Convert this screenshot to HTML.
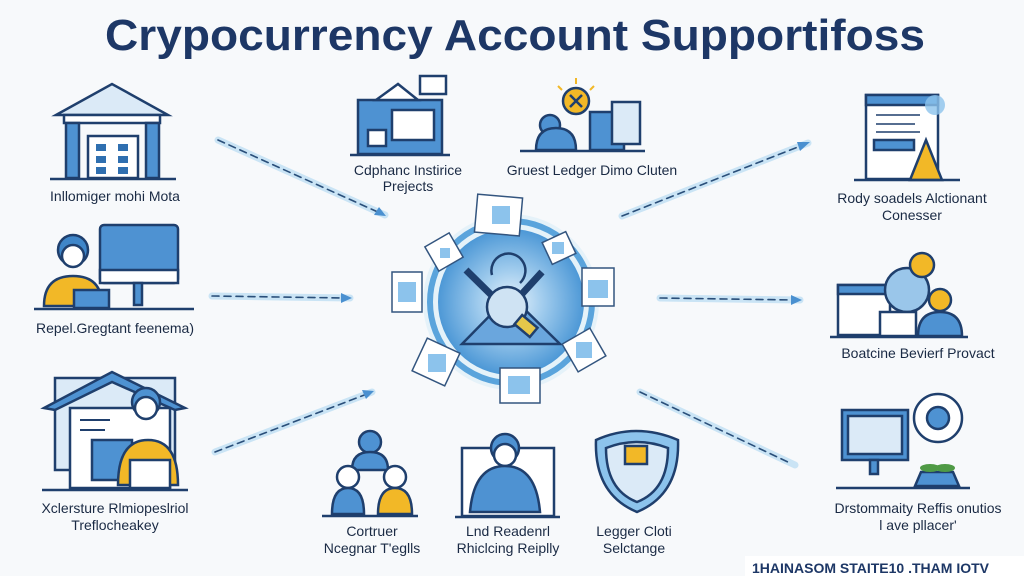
<!DOCTYPE html>
<html><head><meta charset="utf-8"><style>
html,body{margin:0;padding:0;background:#f7f9fb;}
svg{display:block;}
text{font-family:"Liberation Sans",sans-serif;}
</style></head><body>
<svg width="1024" height="576" viewBox="0 0 1024 576" xmlns="http://www.w3.org/2000/svg">
<defs>
<radialGradient id="cg" cx="50%" cy="50%" r="50%">
<stop offset="0" stop-color="#e8f3fc"/><stop offset="0.45" stop-color="#9fcbed"/><stop offset="1" stop-color="#4d98d6"/>
</radialGradient>
</defs>
<rect width="1024" height="576" fill="#f7f9fb"/>
<text x="105" y="50" textLength="820" lengthAdjust="spacingAndGlyphs" font-size="44" font-weight="bold" fill="#1d3766">Crypocurrency Account Supportifoss</text>

<!-- connectors -->
<g stroke-linecap="round">
<g stroke="#bfe0f4" stroke-width="7" opacity="0.8">
<line x1="218" y1="140" x2="385" y2="215"/><line x1="212" y1="296" x2="350" y2="298"/><line x1="215" y1="452" x2="372" y2="392"/>
<line x1="622" y1="216" x2="808" y2="143"/><line x1="660" y1="298" x2="800" y2="300"/><line x1="640" y1="392" x2="795" y2="465"/>
</g>
<g stroke="#2a4f7a" stroke-width="1.6" stroke-dasharray="7,5">
<line x1="218" y1="140" x2="380" y2="213"/><line x1="212" y1="296" x2="345" y2="298"/><line x1="215" y1="452" x2="367" y2="394"/>
<line x1="622" y1="216" x2="803" y2="145"/><line x1="660" y1="298" x2="795" y2="300"/><line x1="640" y1="392" x2="790" y2="463"/>
</g>
<g fill="#4a90d0">
<polygon points="386,216 374,215 379,207"/><polygon points="352,298 341,293 341,303"/><polygon points="374,391 366,399 362,390"/>
<polygon points="810,142 800,151 797,142"/><polygon points="802,300 791,295 791,305"/>
</g>
</g>

<!-- center -->
<circle cx="511" cy="302" r="88" fill="#d9ecf9" opacity="0.6"/>
<circle cx="511" cy="302" r="81" fill="none" stroke="#5aa4dc" stroke-width="6"/>
<circle cx="511" cy="302" r="73" fill="url(#cg)"/>
<g stroke="#1f3f6d" stroke-width="2.5" fill="#6aa6dd">
<polygon points="462,344 510,295 560,344"/>
<line x1="466" y1="270" x2="530" y2="333" stroke-width="7"/>
<line x1="542" y1="272" x2="500" y2="318" stroke-width="7"/>
<path d="M492,275 a17,17 0 1 1 28,8" fill="none"/>
<circle cx="507" cy="307" r="20" fill="#cfe3f3"/>
<rect x="516" y="320" width="20" height="12" fill="#e5c74a" transform="rotate(40 526 326)"/>
</g>
<!-- cards -->
<g fill="#fff" stroke="#33557f" stroke-width="1.5">
<rect x="476" y="196" width="45" height="38" transform="rotate(5 498 215)"/>
<rect x="430" y="238" width="28" height="28" transform="rotate(-30 444 252)"/>
<rect x="392" y="272" width="30" height="40"/>
<rect x="418" y="344" width="36" height="36" transform="rotate(25 436 362)"/>
<rect x="500" y="368" width="40" height="35"/>
<rect x="568" y="334" width="32" height="32" transform="rotate(-30 584 350)"/>
<rect x="582" y="268" width="32" height="38"/>
<rect x="546" y="236" width="26" height="24" transform="rotate(-25 559 248)"/>
</g>
<g fill="#8cc3ec">
<rect x="492" y="206" width="18" height="18"/><rect x="440" y="248" width="10" height="10"/><rect x="398" y="282" width="18" height="20"/>
<rect x="428" y="354" width="18" height="18"/><rect x="508" y="376" width="22" height="18"/><rect x="576" y="342" width="16" height="16"/>
<rect x="588" y="280" width="20" height="18"/><rect x="552" y="242" width="12" height="12"/>
</g>

<!-- left icons -->
<g stroke="#1f3f6d" stroke-width="2.5" fill="#fff">
<polygon points="56,115 112,84 168,115" fill="#dbeaf7"/>
<rect x="64" y="115" width="96" height="8" fill="#fff"/>
<rect x="66" y="123" width="13" height="55" fill="#4e92d2"/><rect x="146" y="123" width="13" height="55" fill="#4e92d2"/>
<rect x="88" y="136" width="50" height="42"/>
<line x1="50" y1="179" x2="176" y2="179"/>
</g>
<g fill="#2f6fb0"><rect x="96" y="144" width="10" height="7"/><rect x="118" y="144" width="10" height="7"/><rect x="96" y="156" width="10" height="7"/><rect x="118" y="156" width="10" height="7"/><rect x="96" y="167" width="10" height="7"/><rect x="118" y="167" width="10" height="7"/></g>

<g stroke="#1f3f6d" stroke-width="2.5">
<rect x="100" y="225" width="78" height="58" rx="4" fill="#4e92d2"/>
<rect x="100" y="270" width="78" height="13" fill="#fff"/>
<rect x="134" y="283" width="8" height="22" fill="#4e92d2"/>
<circle cx="73" cy="250" r="15" fill="#3f86c9"/>
<circle cx="73" cy="256" r="11" fill="#fff"/>
<path d="M44,306 q0,-30 29,-30 q29,0 29,30 z" fill="#f2b827"/>
<rect x="74" y="290" width="35" height="18" fill="#4e92d2"/>
<line x1="34" y1="309" x2="194" y2="309"/>
</g>

<g stroke="#1f3f6d" stroke-width="2.5">
<rect x="55" y="378" width="120" height="92" fill="#dbeaf7"/>
<polygon points="44,408 112,372 185,408 175,410 112,382 55,410" fill="#4e92d2"/>
<rect x="70" y="408" width="100" height="80" fill="#fff"/>
<rect x="92" y="440" width="40" height="40" fill="#4e92d2"/>
<path d="M118,485 q0,-45 30,-45 q30,0 30,45 z" fill="#f2b827"/>
<circle cx="146" cy="402" r="14" fill="#4e92d2"/><circle cx="146" cy="408" r="11" fill="#fff"/>
<rect x="130" y="460" width="40" height="28" fill="#fff"/>
<line x1="42" y1="490" x2="188" y2="490"/>
</g>
<g stroke="#1f3f6d" stroke-width="2"><line x1="80" y1="420" x2="110" y2="420"/><line x1="80" y1="430" x2="105" y2="430"/></g>

<!-- top middle icons -->
<g stroke="#1f3f6d" stroke-width="2.5">
<rect x="358" y="100" width="84" height="54" fill="#4e92d2"/>
<rect x="392" y="110" width="42" height="30" fill="#fff"/>
<polygon points="376,100 398,84 418,100" fill="#fff"/>
<rect x="420" y="76" width="26" height="18" fill="#fff"/>
<rect x="368" y="130" width="18" height="16" fill="#fff"/>
<line x1="350" y1="155" x2="450" y2="155"/>
</g>
<g stroke="#1f3f6d" stroke-width="2.5">
<circle cx="576" cy="101" r="13" fill="#f2b827"/>
<path d="M570,95 l12,12 M582,95 l-12,12"/>
<rect x="590" y="112" width="34" height="38" fill="#4e92d2"/>
<rect x="612" y="102" width="28" height="42" fill="#dbeaf7"/>
<circle cx="550" cy="125" r="10" fill="#4e92d2"/>
<path d="M536,150 q0,-22 20,-22 q20,0 20,22 z" fill="#4e92d2"/>
<line x1="520" y1="151" x2="645" y2="151"/>
</g>
<g stroke="#f2b827" stroke-width="2"><line x1="576" y1="78" x2="576" y2="84"/><line x1="558" y1="86" x2="562" y2="90"/><line x1="594" y1="86" x2="590" y2="90"/></g>

<!-- right icons -->
<g stroke="#1f3f6d" stroke-width="2.5">
<rect x="866" y="95" width="72" height="84" fill="#fff"/>
<rect x="866" y="95" width="72" height="10" fill="#4e92d2"/>
<rect x="874" y="140" width="40" height="10" fill="#4e92d2"/>
<polygon points="910,180 926,140 942,180" fill="#f2b827"/>
<line x1="854" y1="180" x2="960" y2="180"/>
</g>
<g stroke="#1f3f6d" stroke-width="1.5"><line x1="876" y1="115" x2="920" y2="115"/><line x1="876" y1="124" x2="915" y2="124"/><line x1="876" y1="132" x2="920" y2="132"/></g>
<circle cx="935" cy="105" r="10" fill="#8cc3ec" opacity="0.8"/>

<g stroke="#1f3f6d" stroke-width="2.5">
<rect x="838" y="285" width="52" height="50" fill="#fff"/>
<rect x="838" y="285" width="52" height="9" fill="#4e92d2"/>
<circle cx="907" cy="290" r="22" fill="#9ac6ea"/>
<circle cx="922" cy="265" r="12" fill="#f2b827"/>
<circle cx="940" cy="300" r="11" fill="#f2b827"/>
<path d="M918,336 q0,-24 22,-24 q22,0 22,24 z" fill="#4e92d2"/>
<rect x="880" y="312" width="36" height="24" fill="#fff"/>
<line x1="830" y1="337" x2="968" y2="337"/>
</g>

<g stroke="#1f3f6d" stroke-width="2.5">
<rect x="842" y="410" width="66" height="50" fill="#4e92d2"/>
<rect x="848" y="416" width="54" height="38" fill="#dbeaf7"/>
<rect x="870" y="460" width="8" height="14" fill="#4e92d2"/>
<circle cx="938" cy="418" r="24" fill="#fff"/>
<circle cx="938" cy="418" r="11" fill="#4e92d2"/>
<path d="M915,486 h44 l-6,-14 h-32 z" fill="#4e92d2"/>
<line x1="836" y1="488" x2="970" y2="488"/>
</g>
<g fill="#4f9a45"><ellipse cx="930" cy="468" rx="10" ry="4"/><ellipse cx="945" cy="468" rx="10" ry="4"/></g>

<!-- bottom middle icons -->
<g stroke="#1f3f6d" stroke-width="2.5">
<circle cx="370" cy="442" r="11" fill="#4e92d2"/>
<path d="M352,470 q0,-18 18,-18 q18,0 18,18 z" fill="#4e92d2"/>
<circle cx="348" cy="477" r="11" fill="#fff"/>
<path d="M332,514 q0,-26 16,-26 q16,0 16,26 z" fill="#4e92d2"/>
<circle cx="395" cy="477" r="11" fill="#fff"/>
<path d="M378,514 q0,-26 17,-26 q17,0 17,26 z" fill="#f2b827"/>
<line x1="322" y1="516" x2="418" y2="516"/>
</g>
<g stroke="#1f3f6d" stroke-width="2.5">
<rect x="462" y="448" width="92" height="68" fill="#fff"/>
<circle cx="505" cy="448" r="14" fill="#4e92d2"/><circle cx="505" cy="455" r="11" fill="#fff"/>
<path d="M470,512 q4,-46 35,-46 q31,0 35,46 z" fill="#4e92d2"/>
<line x1="455" y1="517" x2="560" y2="517"/>
</g>
<g stroke="#1f3f6d" stroke-width="2.5">
<path d="M596,440 q40,-18 82,0 q2,54 -41,72 q-43,-18 -41,-72 z" fill="#8cc3ec"/>
<path d="M606,448 q31,-12 62,0 q0,42 -31,54 q-31,-12 -31,-54 z" fill="#dbeaf7"/>
<rect x="625" y="446" width="22" height="18" fill="#f2b827"/>
</g>

<!-- labels -->
<g font-size="14" fill="#1a2a44" text-anchor="middle">
<text x="115" y="201">Inllomiger mohi Mota</text>
<text x="408" y="175">Cdphanc Instirice</text>
<text x="408" y="191">Prejects</text>
<text x="592" y="175">Gruest Ledger Dimo Cluten</text>
<text x="912" y="203">Rody soadels Alctionant</text>
<text x="912" y="220">Conesser</text>
<text x="115" y="333">Repel.Gregtant feenema)</text>
<text x="918" y="358">Boatcine Bevierf Provact</text>
<text x="115" y="513">Xclersture Rlmiopeslriol</text>
<text x="115" y="530">Treflocheakey</text>
<text x="372" y="536">Cortruer</text>
<text x="372" y="553">Ncegnar T'eglls</text>
<text x="508" y="536">Lnd Readenrl</text>
<text x="508" y="553">Rhiclcing Reiplly</text>
<text x="634" y="536">Legger Cloti</text>
<text x="634" y="553">Selctange</text>
<text x="918" y="513">Drstommaity Reffis onutios</text>
<text x="918" y="530">l ave pllacer'</text>
</g>
<rect x="745" y="556" width="279" height="20" fill="#fff"/>
<text x="752" y="573" font-size="14" font-weight="bold" fill="#1d3766">1HAINASOM STAITE10 .THAM IOTV</text>
</svg>
</body></html>
